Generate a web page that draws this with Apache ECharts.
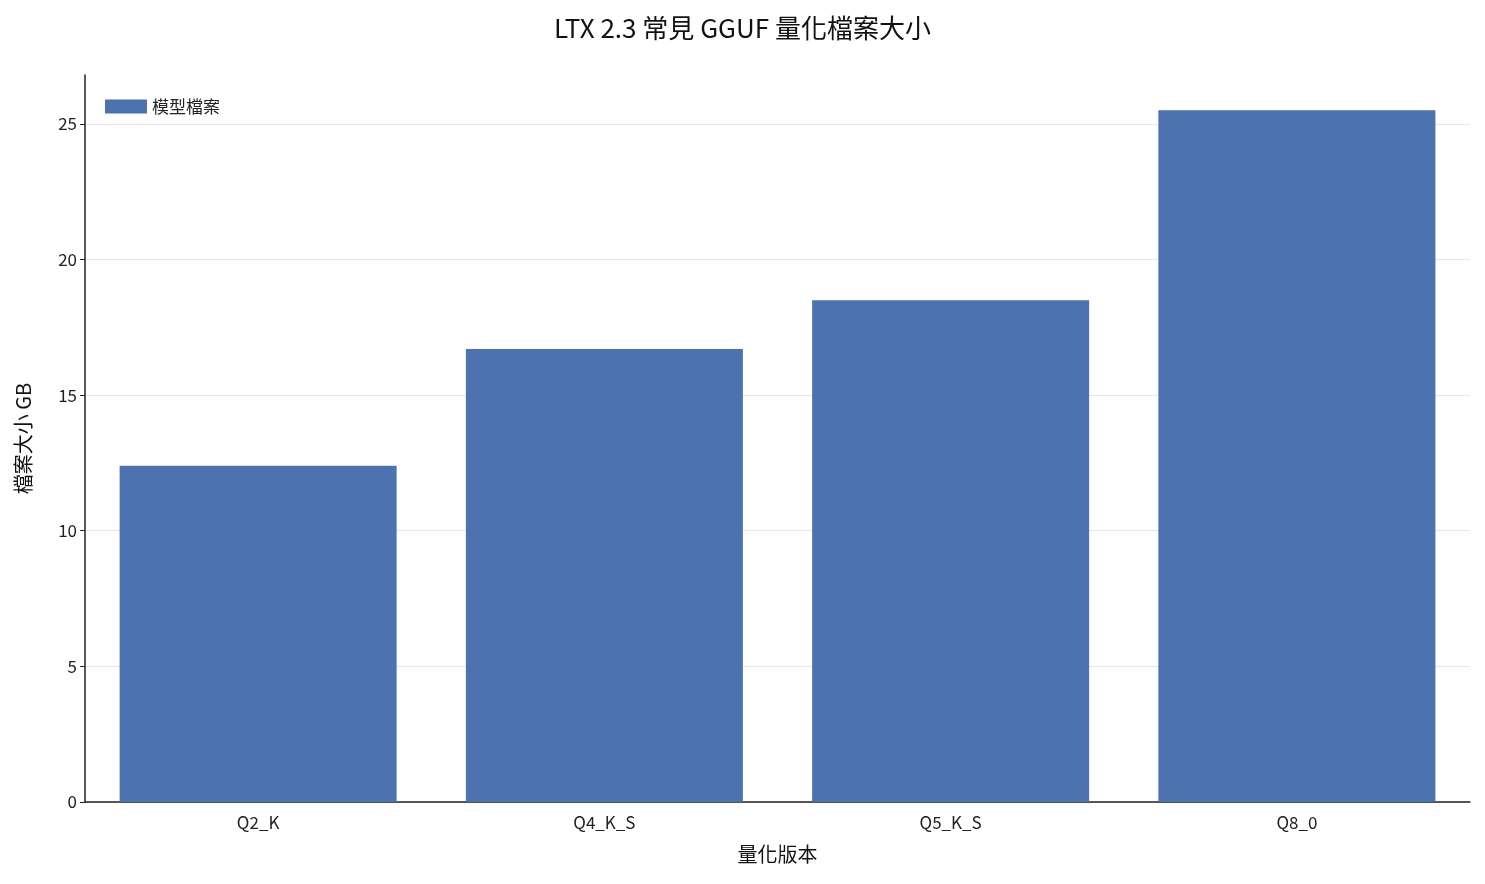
<!DOCTYPE html>
<html><head><meta charset="utf-8">
<script src="https://cdn.jsdelivr.net/npm/echarts@6/dist/echarts.min.js"></script>
<style>html,body{margin:0;padding:0;background:#fff}#c{width:1485px;height:884px}</style>
</head><body><div id="c"></div>
<script>
const categories = ['Q2_K','Q4_K_S','Q5_K_S','Q8_0'];
const sizes = [12.4, 16.7, 18.5, 25.5];
const seriesName = '模型檔案';
const font = '"Noto Sans CJK TC","Noto Sans",sans-serif';
const chart = echarts.init(document.getElementById('c'));
chart.setOption({
  animation:false,
  textStyle:{fontFamily:font},
  title:{text:'LTX 2.3 常見 GGUF 量化檔案大小',left:'center',top:10,textStyle:{fontFamily:font,fontSize:26,fontWeight:'normal',color:'#111'}},
  legend:{left:100,top:93,itemWidth:42,itemHeight:14,icon:'rect',textStyle:{fontSize:17,color:'#222'},data:[seriesName]},
  grid:{left:85,right:15,top:75,bottom:82},
  xAxis:{type:'category',data:categories,name:'量化版本',nameLocation:'middle',nameGap:42,
    nameTextStyle:{fontSize:20,color:'#111'},
    axisLine:{lineStyle:{color:'#222',width:1.5}},axisTick:{alignWithLabel:true,lineStyle:{color:'#222'}},
    axisLabel:{fontSize:17,color:'#222',margin:12}},
  yAxis:{type:'value',min:0,max:26.8,interval:5,name:'檔案大小 GB',nameLocation:'middle',nameGap:52,
    nameTextStyle:{fontSize:20,color:'#111'},
    axisLine:{show:true,lineStyle:{color:'#222',width:1.5}},axisTick:{show:true,lineStyle:{color:'#222'}},
    axisLabel:{fontSize:17,color:'#222',showMaxLabel:false},
    splitLine:{show:true,showMaxLine:false,lineStyle:{color:'#e6e6e6',width:1}}},
  series:[{name:seriesName,type:'bar',data:sizes,barCategoryGap:'20%',itemStyle:{color:'#4c72b0'},z:1}]
});
</script></body></html>
